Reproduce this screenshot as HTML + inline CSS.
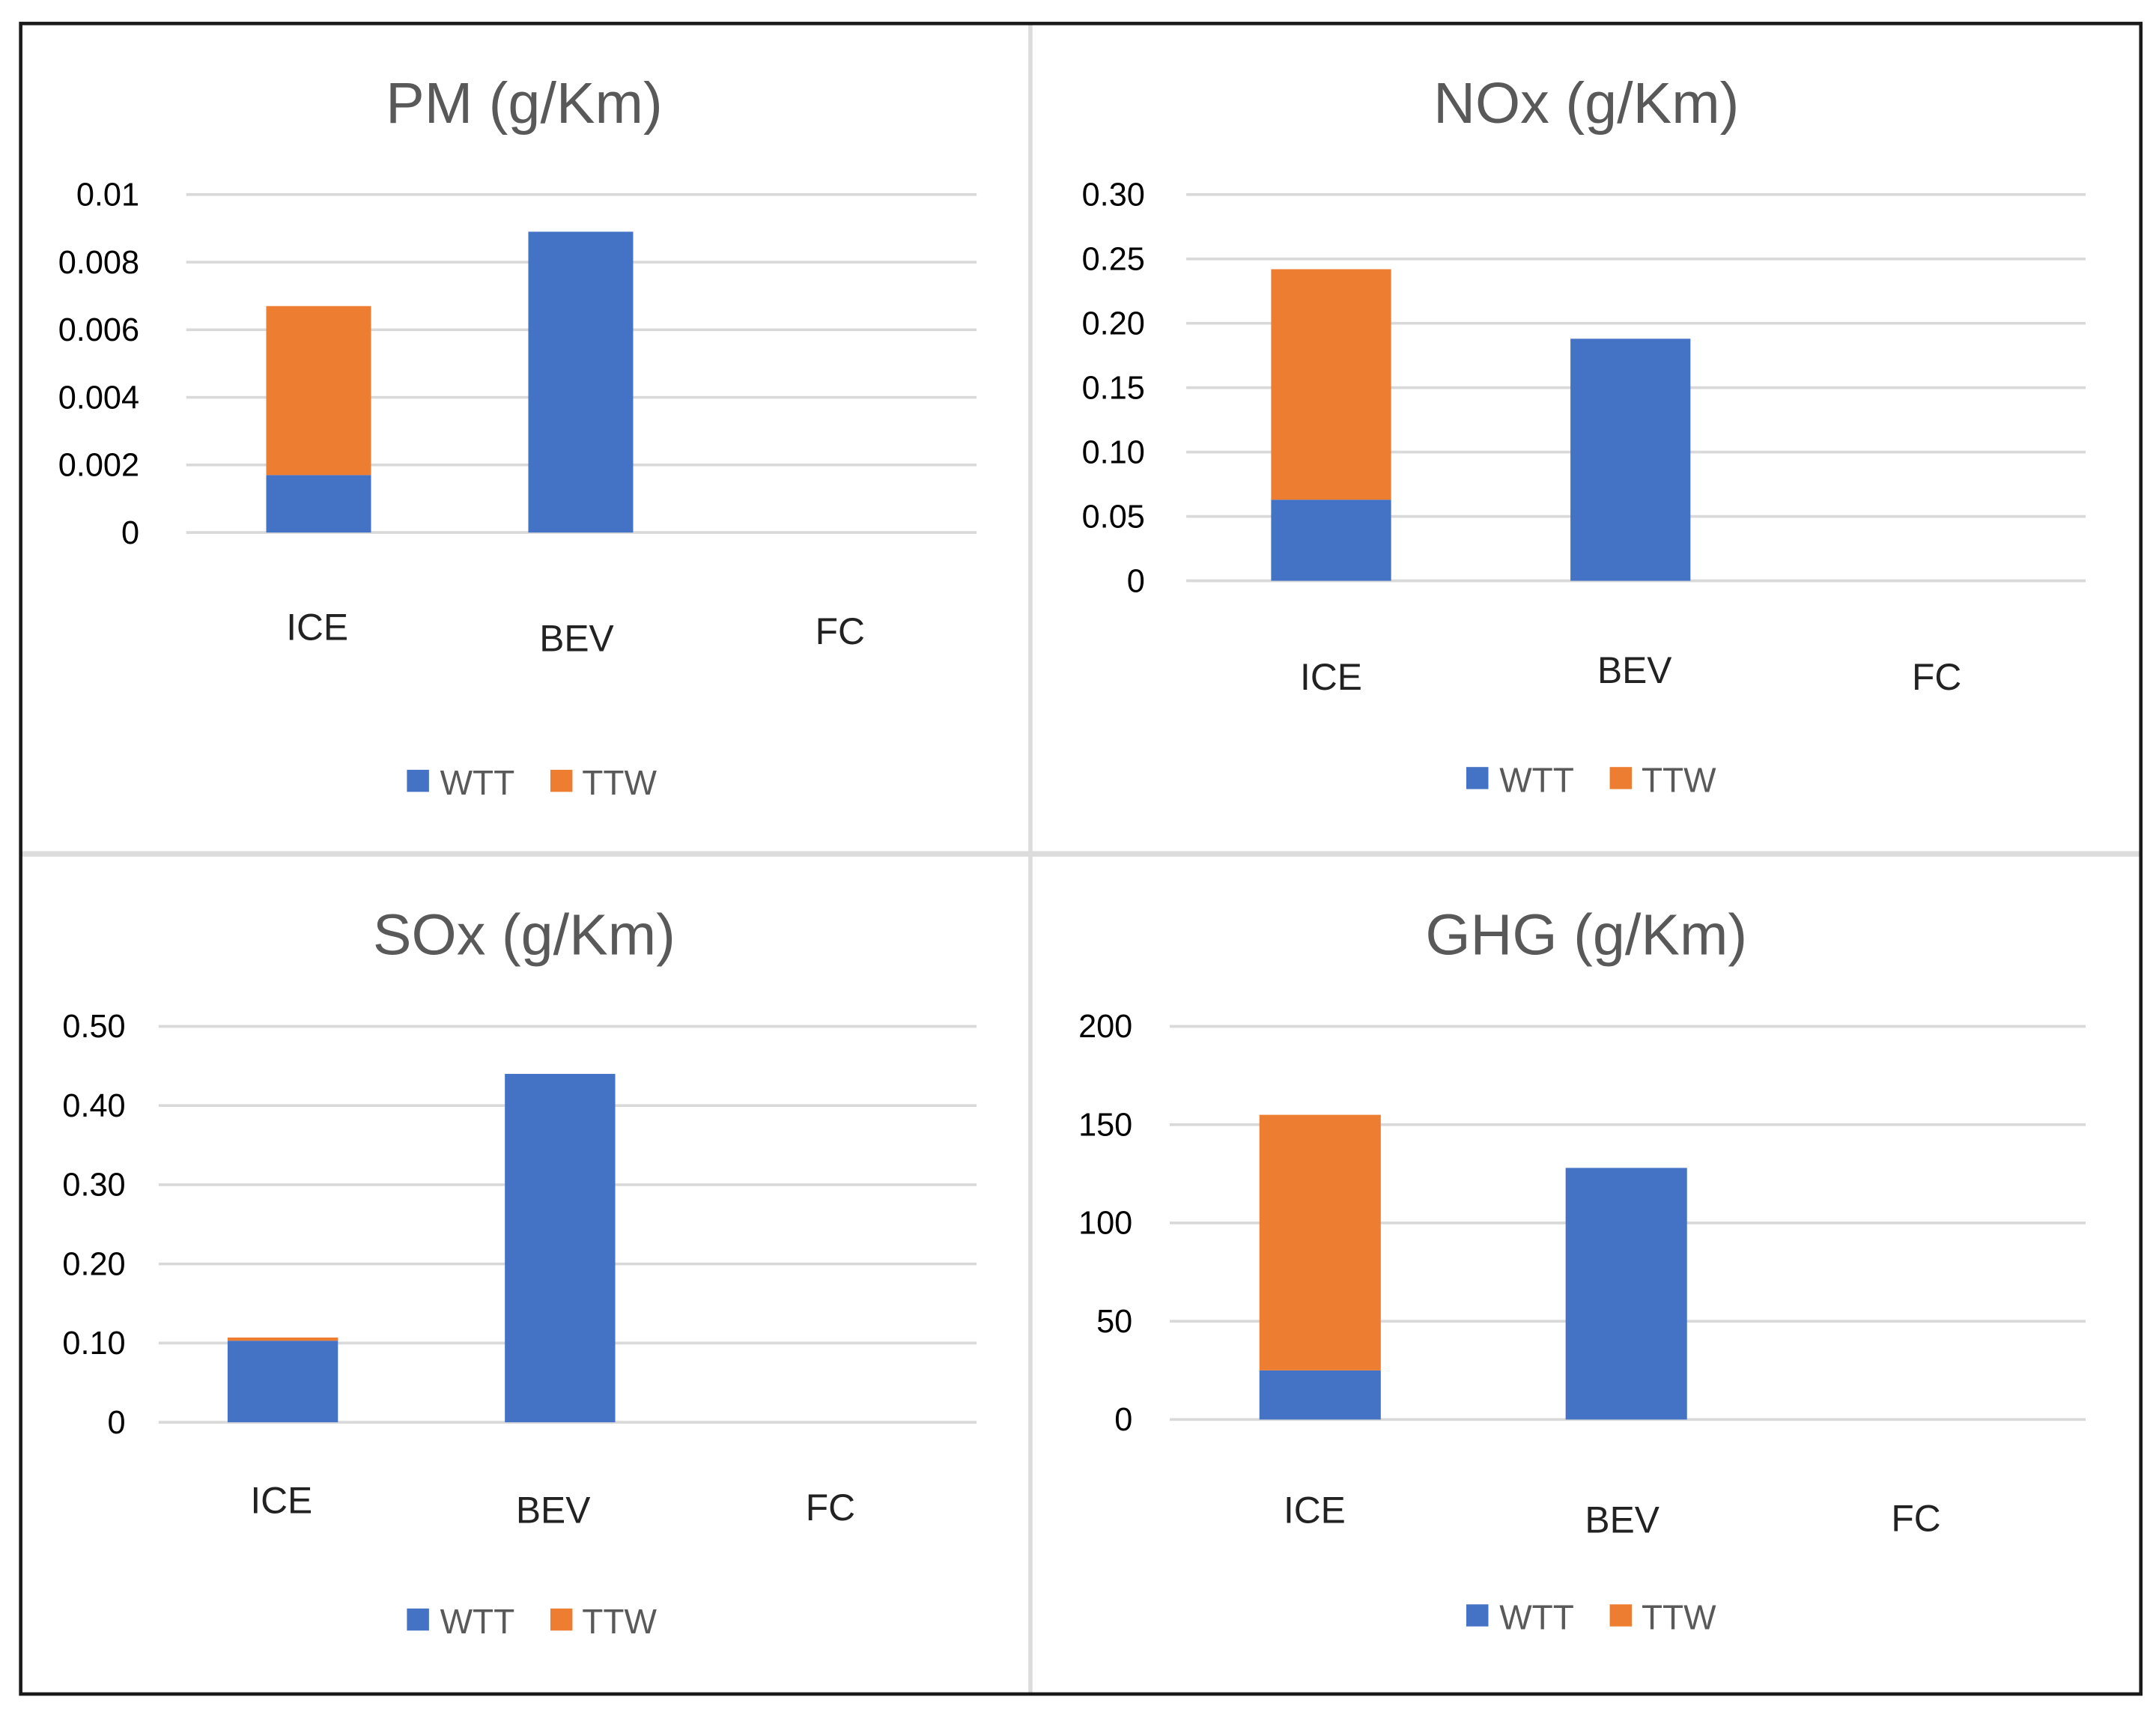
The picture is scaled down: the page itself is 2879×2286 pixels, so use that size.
<!DOCTYPE html>
<html><head><meta charset="utf-8"><style>
html,body{margin:0;padding:0;background:#fff;}
svg{display:block;}
text{font-family:"Liberation Sans",sans-serif;}
</style></head><body>
<svg id="root" width="2879" height="2286" viewBox="0 0 1563 1241" xmlns="http://www.w3.org/2000/svg">
<rect x="0" y="0" width="1563" height="1241" fill="#fff"/>
<line x1="747" y1="18" x2="747" y2="1227" stroke="#dcdcdc" stroke-width="3"/>
<line x1="16" y1="619" x2="1551" y2="619" stroke="#dcdcdc" stroke-width="4"/>
<rect x="15" y="17" width="1537" height="1211" fill="none" stroke="#1a1a1a" stroke-width="2.5"/>
<g id="charts"></g>
</svg>
<script>
const categories = ["ICE", "BEV", "FC"];
const pmWTT = [0.0017, 0.0089, 0];
const pmTTW = [0.0050, 0, 0];
const pmTicks = ["0", "0.002", "0.004", "0.006", "0.008", "0.01"];
const noxWTT = [0.063, 0.188, 0];
const noxTTW = [0.179, 0, 0];
const noxTicks = ["0", "0.05", "0.10", "0.15", "0.20", "0.25", "0.30"];
const soxWTT = [0.103, 0.44, 0];
const soxTTW = [0.004, 0, 0];
const soxTicks = ["0", "0.10", "0.20", "0.30", "0.40", "0.50"];
const ghgWTT = [25, 128, 0];
const ghgTTW = [130, 0, 0];
const ghgTicks = ["0", "50", "100", "150", "200"];

const NS = "http://www.w3.org/2000/svg";
const g = document.getElementById("charts");
function mk(tag, attrs, parent) {
  const e = document.createElementNS(NS, tag);
  for (const k in attrs) e.setAttribute(k, attrs[k]);
  (parent || g).appendChild(e);
  return e;
}
const BLUE = "#4472c4", ORANGE = "#ed7d31";

function chart(cfg) {
  const grp = mk("g", {});
  
  
  const maxV = parseFloat(cfg.ticks[cfg.ticks.length - 1]);
  const y = v => cfg.y0 - (v / maxV) * (cfg.y0 - cfg.yTop);
  const t = mk("text", {x: cfg.titleX, y: cfg.titleY, "text-anchor": "middle", "font-size": 42, fill: "#595959"}, grp);
  t.textContent = cfg.title;
  
  
  cfg.ticks.forEach((lab) => {
    const v = parseFloat(lab);
    const gl = mk("line", {x1: cfg.gx0, x2: cfg.gx1, y1: y(v), y2: y(v), stroke: "#d9d9d9", "stroke-width": 2}, grp);
    
    
    const tl = mk("text", {x: cfg.tickX, y: y(v) + 8, "text-anchor": "end", "font-size": 23.5, fill: "#000"}, grp);
    tl.textContent = lab;
    
    
  });
  categories.forEach((c, i) => {
    const cx = cfg.barX[i];
    const w = cfg.barW;
    const wv = cfg.wtt[i], tv = cfg.ttw[i];
    if (wv > 0) {
      const r = mk("rect", {x: cx - w / 2, y: y(wv), width: w, height: y(0) - y(wv), fill: BLUE}, grp);
      
      
    }
    if (tv > 0) {
      const r = mk("rect", {x: cx - w / 2, y: y(wv + tv), width: w, height: y(wv) - y(wv + tv), fill: ORANGE}, grp);
      
      
    }
    const cl = mk("text", {x: cfg.catX[i], y: cfg.catY[i], "text-anchor": "middle", "font-size": 27, fill: "#222"}, grp);
    cl.textContent = c;
    
    
  });
  const lx = cfg.legX, ly = cfg.legY;
  const s1 = mk("rect", {x: lx, y: ly - 9, width: 16, height: 16, fill: BLUE}, grp);
  
  
  const l1 = mk("text", {x: lx + 24, y: ly + 9, "font-size": 25, fill: "#595959"}, grp);
  l1.textContent = "WTT";
  
  
  const s2 = mk("rect", {x: lx + 104, y: ly - 9, width: 16, height: 16, fill: ORANGE}, grp);
  
  
  const l2 = mk("text", {x: lx + 127, y: ly + 9, "font-size": 25, fill: "#595959"}, grp);
  l2.textContent = "TTW";
  
  
}

chart({name: "pm", title: "PM (g/Km)", titleX: 380, titleY: 89, ticks: pmTicks, wtt: pmWTT, ttw: pmTTW,
  y0: 386, yTop: 141, gx0: 135, gx1: 708, tickX: 101, barX: [231, 421, 610], barW: 76,
  catX: [230, 418, 609], catY: [464, 472, 467], legX: 295, legY: 567});
chart({name: "nox", title: "NOx (g/Km)", titleX: 1150, titleY: 89, ticks: noxTicks, wtt: noxWTT, ttw: noxTTW,
  y0: 421, yTop: 141, gx0: 860, gx1: 1512, tickX: 830, barX: [965, 1182, 1400], barW: 87,
  catX: [965, 1185, 1404], catY: [500, 495, 500], legX: 1063, legY: 565});
chart({name: "sox", title: "SOx (g/Km)", titleX: 380, titleY: 692, ticks: soxTicks, wtt: soxWTT, ttw: soxTTW,
  y0: 1031, yTop: 744, gx0: 115, gx1: 708, tickX: 91, barX: [205, 406, 605], barW: 80,
  catX: [204, 401, 602], catY: [1097, 1104, 1102], legX: 295, legY: 1175});
chart({name: "ghg", title: "GHG (g/Km)", titleX: 1150, titleY: 692, ticks: ghgTicks, wtt: ghgWTT, ttw: ghgTTW,
  y0: 1029, yTop: 744, gx0: 848, gx1: 1512, tickX: 821, barX: [957, 1179, 1400], barW: 88,
  catX: [953, 1176, 1389], catY: [1104, 1111, 1110], legX: 1063, legY: 1172});
</script>
</body></html>
